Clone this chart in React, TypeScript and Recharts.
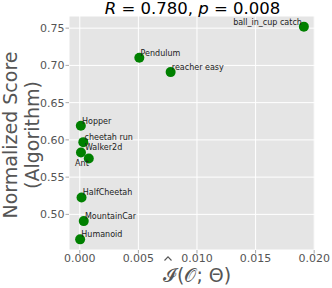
import { ScatterChart, Scatter, XAxis, YAxis, CartesianGrid } from "recharts";

const envNames = [
    "ball_in_cup catch",
    "Pendulum",
    "reacher easy",
    "Hopper",
    "cheetah run",
    "Walker2d",
    "Ant",
    "HalfCheetah",
    "MountainCar",
    "Humanoid",
];
const mutualInfo = [0.01912, 0.00508, 0.00775, 0.00009, 0.0003, 0.0001, 0.00077, 0.00015, 0.00034, 0.00003];
const normScore = [0.752, 0.7103, 0.691, 0.619, 0.597, 0.583, 0.575, 0.5227, 0.491, 0.4665];
const xTicks = [0, 0.005, 0.01, 0.015, 0.02];
const yTicks = [0.5, 0.55, 0.6, 0.65, 0.7, 0.75];

const data = envNames.map((name, i) => ({ name, x: mutualInfo[i], y: normScore[i] }));

const FONT = "DejaVu Sans, sans-serif";
const GRAY = "#555555";

const Dot = (props: any) => <circle cx={props.cx} cy={props.cy} r={5} fill="#008000" />;

// most labels sit just up-right of their point; a few were nudged in the original
const Tag = (props: any) => {
    const name = props.payload.name;
    let dx = 1.2;
    let dy = -2;
    let anchor = "start";
    if (name === "ball_in_cup catch") {
        dx = -2;
        anchor = "end";
    } else if (name === "Walker2d") {
        dx = 4;
        dy = -2.7;
    } else if (name === "Ant") {
        dx = 0;
        dy = 7.7;
        anchor = "end";
    }
    return (
        <text
            x={props.cx + dx}
            y={props.cy + dy}
            textAnchor={anchor}
            fontSize={8}
            fontFamily={FONT}
            fill="#222"
        >
            {name}
        </text>
    );
};

export default function App() {
    return (
        <div style={{ position: "absolute", left: 0, top: 0, width: 332, height: 288, background: "#fff" }}>
            <ScatterChart width={332} height={288} margin={{ top: 16, right: 17, left: 0, bottom: 0 }}>
                <CartesianGrid fill="#E5E5E5" stroke="#ffffff" strokeWidth={1} />
                <XAxis
                    type="number"
                    dataKey="x"
                    domain={[-0.00092, 0.02007]}
                    ticks={xTicks}
                    allowDataOverflow
                    height={38}
                    axisLine={false}
                    tickSize={3.5}
                    tickMargin={1}
                    tickLine={{ stroke: "#aaa" }}
                    tickFormatter={(v: number) => v.toFixed(3)}
                    tick={{ fill: GRAY, fontSize: 11, fontFamily: FONT }}
                />
                <YAxis
                    type="number"
                    dataKey="y"
                    domain={[0.4522, 0.7663]}
                    ticks={yTicks}
                    allowDataOverflow
                    width={69}
                    axisLine={false}
                    tickSize={3.5}
                    tickMargin={1}
                    tickLine={{ stroke: "#aaa" }}
                    tickFormatter={(v: number) => v.toFixed(2)}
                    tick={{ fill: GRAY, fontSize: 11, fontFamily: FONT }}
                />
                <Scatter data={data} shape={Dot} isAnimationActive={false} />
                <Scatter data={data} shape={Tag} isAnimationActive={false} />
            </ScatterChart>
            <svg width={332} height={288} style={{ position: "absolute", left: 0, top: 0, pointerEvents: "none" }}>
                <text x={192.5} y={14} textAnchor="middle" fontSize={16.5} fontFamily={FONT} fill="#000">
                    <tspan fontStyle="italic">R</tspan> = 0.780, <tspan fontStyle="italic">p</tspan> = 0.008
                </text>
                <g fontSize={19} fontFamily={FONT} fill={GRAY}>
                    <text x={17} y={135} textAnchor="middle" transform="rotate(-90 17 135)">Normalized Score</text>
                    <text x={39} y={135} textAnchor="middle" transform="rotate(-90 39 135)">(Algorithm)</text>
                    <text x={163} y={282}>
                        𝓘<tspan dx={1}>(𝒪; Θ)</tspan>
                    </text>
                </g>
                <path d="M164.5 260.5 L168 256.8 L171.5 260.5" fill="none" stroke={GRAY} strokeWidth={1.1} />
            </svg>
        </div>
    );
}
